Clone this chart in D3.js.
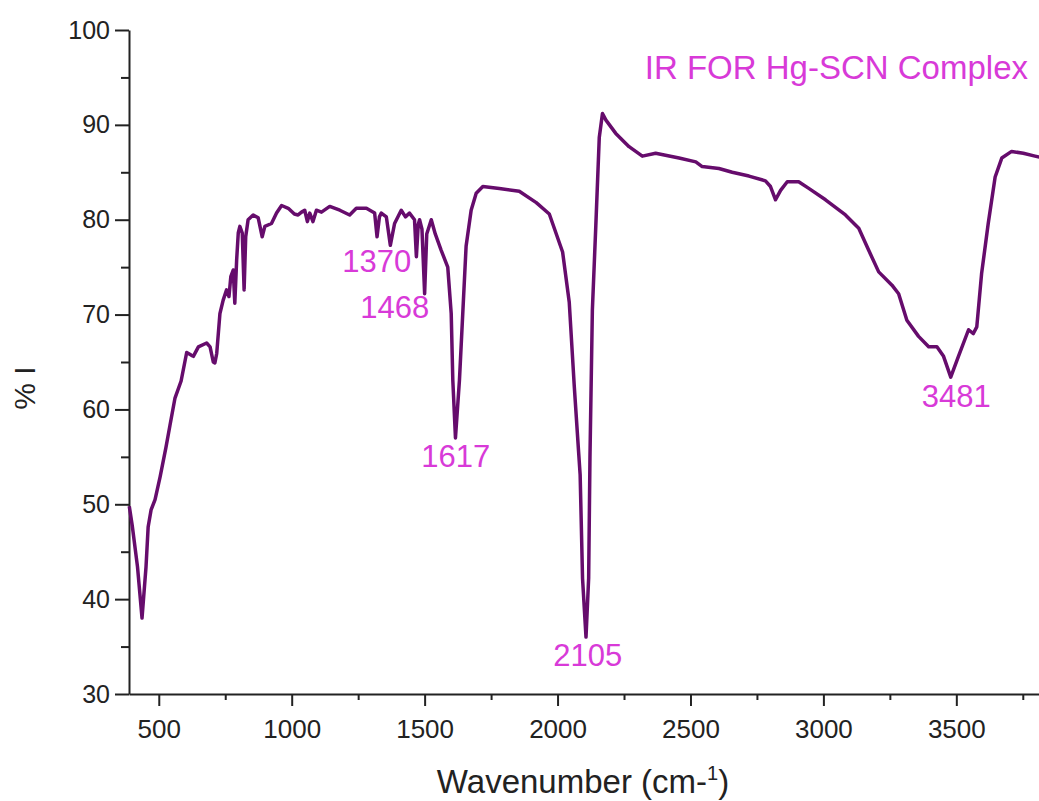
<!DOCTYPE html>
<html>
<head>
<meta charset="utf-8">
<script src="https://cdn.jsdelivr.net/npm/d3@7"></script>
<style>
  body { margin: 0; background: #fff; }
  svg { display: block; font-family: "Liberation Sans", Arial, sans-serif; }
</style>
</head>
<body>
<div id="chart"></div>
<script>
// IR spectrum of the Hg-SCN complex
const wavenumber = [
  389, 400, 420, 437, 452, 460, 471, 486, 505, 527, 542, 561, 584, 605, 623, 630,
  649, 680, 693, 705, 711, 718, 730, 742, 755, 764, 771, 780, 786, 793, 799, 805,
  814, 821, 827, 836, 855, 874, 889, 899, 924, 943, 962, 987, 1010, 1024, 1037, 1049,
  1059, 1068, 1080, 1093, 1112, 1143, 1181, 1218, 1243, 1281, 1312, 1321, 1330, 1337,
  1356, 1371, 1387, 1412, 1428, 1443, 1462, 1469, 1476, 1481, 1490, 1500, 1508, 1525,
  1540, 1562, 1587, 1600, 1606, 1616, 1631, 1656, 1675, 1694, 1719, 1781, 1856, 1920,
  1969, 2019, 2044, 2063, 2079, 2085, 2094, 2107, 2117, 2122, 2131, 2144, 2157, 2169,
  2182, 2219, 2269, 2319, 2369, 2457, 2520, 2544, 2607, 2657, 2720, 2782, 2801, 2820,
  2839, 2864, 2907, 2945, 3008, 3083, 3133, 3170, 3208, 3258, 3283, 3314, 3358, 3396,
  3427, 3452, 3479, 3508, 3546, 3564, 3577, 3595, 3620, 3646, 3671, 3708, 3752, 3796, 3812
];
const transmittance = [
  49.8, 47.8, 43.4, 38.0, 43.4, 47.6, 49.4, 50.5, 52.9, 56.0, 58.3, 61.2, 63.0, 66.0, 65.7, 65.6,
  66.6, 67.0, 66.6, 65.0, 64.9, 65.9, 70.1, 71.5, 72.6, 71.9, 74.0, 74.7, 71.2, 75.8, 78.6, 79.3,
  78.6, 72.6, 78.2, 80.0, 80.5, 80.2, 78.2, 79.3, 79.6, 80.7, 81.5, 81.2, 80.6, 80.5, 80.8, 81.0,
  79.8, 80.7, 79.8, 81.0, 80.8, 81.4, 81.0, 80.5, 81.2, 81.2, 80.7, 78.2, 80.3, 80.7,
  80.3, 77.3, 79.6, 81.0, 80.3, 80.7, 80.0, 76.1, 79.5, 80.0, 79.0, 72.2, 78.5, 80.0,
  78.5, 76.8, 75.0, 70.1, 63.1, 57.0, 63.1, 77.2, 81.0, 82.8, 83.5, 83.3, 83.0, 81.8,
  80.6, 76.6, 71.3, 62.4, 55.6, 53.1, 42.2, 36.0, 42.2, 55.1, 70.5, 79.4, 88.7, 91.2,
  90.5, 89.1, 87.7, 86.7, 87.0, 86.5, 86.1, 85.6, 85.4, 85.0, 84.6, 84.1, 83.5, 82.1,
  83.1, 84.0, 84.0, 83.3, 82.1, 80.5, 79.1, 76.8, 74.5, 73.1, 72.2, 69.4, 67.7, 66.6,
  66.6, 65.6, 63.4, 65.6, 68.4, 68.0, 68.7, 74.3, 79.6, 84.5, 86.5, 87.2, 87.0, 86.7, 86.6
];

// peak annotations: label, wavenumber under the text centre, %T at the text baseline
const peakLabels = ['1370', '1468', '1617', '2105', '3481'];
const peakX = [1320, 1388, 1617, 2114, 3500];
const peakY = [74.5, 69.6, 53.9, 33.0, 60.3];

const xTicks = [500, 1000, 1500, 2000, 2500, 3000, 3500];
const xMinorTicks = [750, 1250, 1750, 2250, 2750, 3250, 3750];
const yTicks = [30, 40, 50, 60, 70, 80, 90, 100];
const yMinorTicks = [35, 45, 55, 65, 75, 85, 95];

const width = 1039;
const height = 801;
const margin = {top: 30, right: 0, bottom: 107, left: 129};
const lineColor = '#660c6c';
const labelColor = '#d83ad8';

let svg = d3.select('#chart').append('svg')
  .attr('width', width)
  .attr('height', height);

let x = d3.scaleLinear()
  .domain([388, 3811])
  .range([margin.left, width - margin.right]);

let y = d3.scaleLinear()
  .domain([30, 100])
  .range([height - margin.bottom, margin.top]);

// axes
let xAxis = svg.append('g')
  .attr('transform', 'translate(0,' + (height - margin.bottom) + ')')
  .call(d3.axisBottom(x).tickValues(xTicks).tickSize(12).tickPadding(14)
    .tickFormat(d3.format('d')).tickSizeOuter(0));

svg.append('g')
  .attr('transform', 'translate(0,' + (height - margin.bottom) + ')')
  .call(d3.axisBottom(x).tickValues(xMinorTicks).tickSize(6).tickFormat('').tickSizeOuter(0))
  .select('.domain').remove();

let yAxis = svg.append('g')
  .attr('transform', 'translate(' + margin.left + ',0)')
  .call(d3.axisLeft(y).tickValues(yTicks).tickSize(14).tickPadding(5)
    .tickFormat(d3.format('d')).tickSizeOuter(0));

svg.append('g')
  .attr('transform', 'translate(' + margin.left + ',0)')
  .call(d3.axisLeft(y).tickValues(yMinorTicks).tickSize(8).tickFormat('').tickSizeOuter(0))
  .select('.domain').remove();

svg.selectAll('.domain, .tick line')
  .attr('stroke', '#222')
  .attr('stroke-width', 2);

xAxis.selectAll('text')
  .attr('font-size', 26)
  .attr('font-family', '"Liberation Sans", Arial, sans-serif')
  .attr('fill', '#222');

yAxis.selectAll('text')
  .attr('font-size', 25)
  .attr('font-family', '"Liberation Sans", Arial, sans-serif')
  .attr('fill', '#222');

// spectrum
let points = wavenumber.map((w, i) => [w, transmittance[i]]);

let line = d3.line()
  .x(d => x(d[0]))
  .y(d => y(d[1]));

svg.append('path')
  .datum(points)
  .attr('d', line)
  .attr('fill', 'none')
  .attr('stroke', lineColor)
  .attr('stroke-width', 3.5)
  .attr('stroke-linejoin', 'round');

// peak labels
svg.selectAll('.peak')
  .data(peakLabels)
  .enter().append('text')
  .attr('class', 'peak')
  .attr('x', (d, i) => x(peakX[i]))
  .attr('y', (d, i) => y(peakY[i]))
  .attr('text-anchor', 'middle')
  .attr('font-size', 31)
  .attr('fill', labelColor)
  .text(d => d);

// title
svg.append('text')
  .attr('x', 1028)
  .attr('y', 79)
  .attr('text-anchor', 'end')
  .attr('font-size', 33)
  .attr('fill', labelColor)
  .text('IR FOR Hg-SCN Complex');

// axis titles
let xTitle = svg.append('text')
  .attr('x', 583)
  .attr('y', 793)
  .attr('text-anchor', 'middle')
  .attr('font-size', 33)
  .attr('fill', '#222')
  .text('Wavenumber (cm-');
xTitle.append('tspan')
  .attr('dy', -13)
  .attr('font-size', 20)
  .text('1');
xTitle.append('tspan')
  .attr('dy', 13)
  .text(')');

svg.append('text')
  .attr('transform', 'translate(35,388) rotate(-90)')
  .attr('text-anchor', 'middle')
  .attr('font-size', 30)
  .attr('fill', '#222')
  .text('% I');
</script>
</body>
</html>
